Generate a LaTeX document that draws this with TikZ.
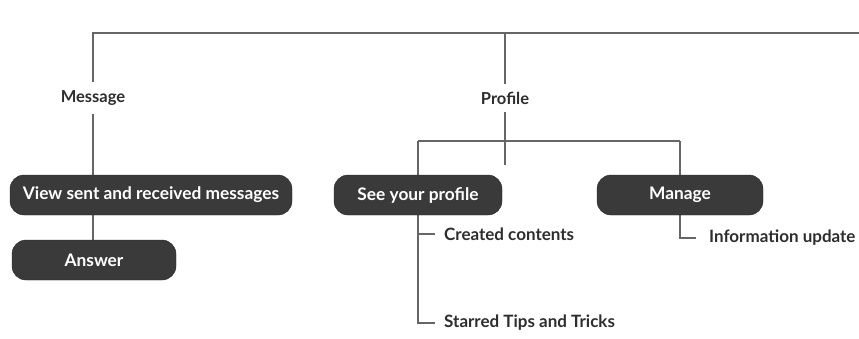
\documentclass[tikz,border=0pt]{standalone}
\usepackage{fontspec}
\setmainfont{Lato}
\usetikzlibrary{calc}
\usetikzlibrary{backgrounds}

\definecolor{boxgray}{HTML}{3A3A3A}
\definecolor{linegray}{HTML}{666666}
\definecolor{textgray}{HTML}{2E2E2E}

\tikzset{
  pill/.style={rounded corners=14pt, fill=boxgray, draw=boxgray!70!black, text=white,
    font=\fontsize{17.3}{19}\selectfont\bfseries, minimum height=40pt, inner xsep=4pt},
  lbl/.style={text=textgray, font=\fontsize{17}{19}\selectfont\bfseries, inner sep=1pt},
  cat/.style={text=textgray, font=\fontsize{16.5}{19}\selectfont\bfseries, inner xsep=2pt, inner ysep=8pt},
  wire/.style={linegray, line width=1.1pt}
}

\begin{document}
\begin{tikzpicture} [x=1pt, y=-1pt]
\useasboundingbox (0,0) rectangle (859,338);
\coordinate (tl) at (93,33);
\coordinate (tr) at (859,33);
\coordinate (hl) at (418,141);
\coordinate (hr) at (680,141);
\coordinate (pend) at (505,165);

\node[cat] (msg) at (93,98) {Message};
\node[cat] (prof) at (505,98) {Profile};

\node[pill, minimum width=282pt] (view) at (151,195) {View sent and received messages};
\node[pill, minimum width=164pt] (answer) at (94,260) {Answer};
\node[pill, minimum width=168pt] (see) at (418,195) {See your profile};
\node[pill, minimum width=166pt] (manage) at (680,195) {Manage};

\node[lbl, anchor=west] (created) at (443,234) {Created contents};
\node[lbl, anchor=west] (starred) at (443,323) {Starred Tips and Tricks};
\node[lbl, anchor=west] (info) at (708,238) {Information update};

\begin{scope}[on background layer]
 \fill[white] (0,0) rectangle (859,338);
 \draw[wire] (msg) -- (tl) -- (tr);
 \draw[wire] (prof) -- (prof |- tl);
 \draw[wire] (prof) -- (pend);
 \draw[wire] (msg) -- (answer.north -| msg);
 \draw[wire] (hl) -- (hr);
 \draw[wire] (hl) |- ($(starred.west)+(-8,0)$);
 \draw[wire] (created.west -| hl) -- ($(created.west)+(-8,0)$);
 \draw[wire] (hr) |- ($(info.west)+(-12,0)$);
\end{scope}
\end{tikzpicture}
\end{document}
